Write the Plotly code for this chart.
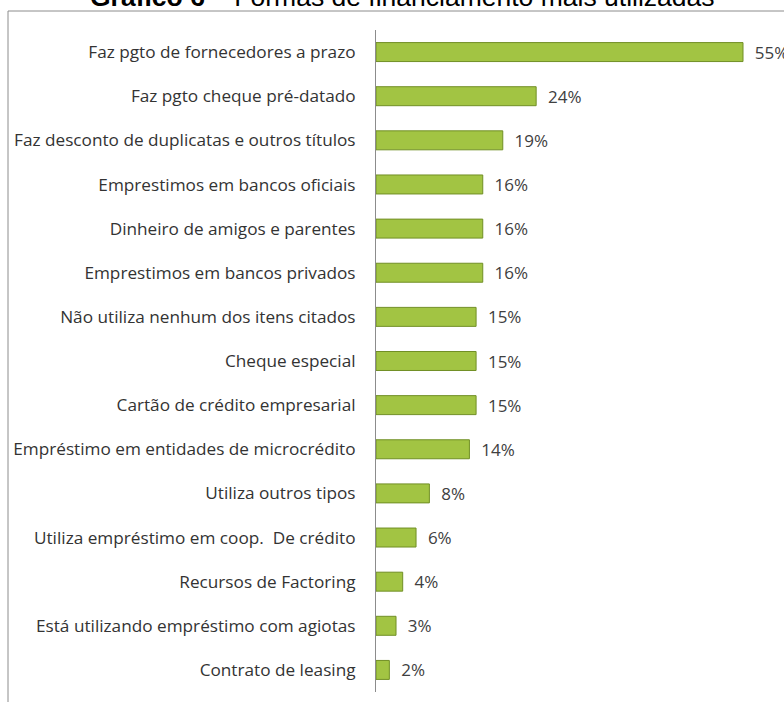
import plotly.graph_objects as go

categories = [
    "Faz pgto de fornecedores a prazo",
    "Faz pgto cheque pré-datado",
    "Faz desconto de duplicatas e outros títulos",
    "Emprestimos em bancos oficiais",
    "Dinheiro de amigos e parentes",
    "Emprestimos em bancos privados",
    "Não utiliza nenhum dos itens citados",
    "Cheque especial",
    "Cartão de crédito empresarial",
    "Empréstimo em entidades de microcrédito",
    "Utiliza outros tipos",
    "Utiliza empréstimo em coop.  De crédito",
    "Recursos de Factoring",
    "Está utilizando empréstimo com agiotas",
    "Contrato de leasing",
]
values = [55, 24, 19, 16, 16, 16, 15, 15, 15, 14, 8, 6, 4, 3, 2]
value_labels = [f"  {v}%" for v in values]
title_bold = "Gráfico 6"
title_rest = " – Formas de financiamento mais utilizadas"

W, H = 784, 702
ml, mr, mt, mb = 376, 0, 30, 10
pw, ph = W - ml - mr, H - mt - mb

fig = go.Figure(go.Bar(
    x=values, y=categories, orientation="h",
    marker=dict(color="#a2c443", line=dict(color="#718f25", width=1)),
    text=value_labels, textposition="outside", cliponaxis=False,
    constraintext="none",
    textfont=dict(family="Open Sans", size=17, color="#404040"),
))

fig.update_layout(
    width=W, height=H,
    margin=dict(l=ml, r=mr, t=mt, b=mb),
    paper_bgcolor="white", plot_bgcolor="white",
    bargap=0.57, showlegend=False,
    xaxis=dict(range=[0, 55 * pw / 367], visible=False),
    yaxis=dict(autorange="reversed", showline=True, linecolor="#8c8c8c", linewidth=1,
               ticks="", showgrid=False, ticklabelstandoff=16,
               tickfont=dict(family="Open Sans", size=17.2, color="#333333")),
    font=dict(family="Open Sans"),
    annotations=[dict(
        text=f"<b>{title_bold}</b>{title_rest}", xref="paper", yref="paper",
        x=(402 - ml) / pw, y=1 + (mt - 14) / ph, xanchor="center", yanchor="bottom",
        showarrow=False, font=dict(family="Liberation Sans", size=26.5, color="#000000"),
    )],
    shapes=[dict(type="rect", xref="paper", yref="paper",
                 x0=(8 - ml) / pw, x1=1.02, y0=-0.05, y1=1 + (mt - 11) / ph,
                 line=dict(color="#8c8c8c", width=1), layer="below")],
)

fig.write_html("out.html")
